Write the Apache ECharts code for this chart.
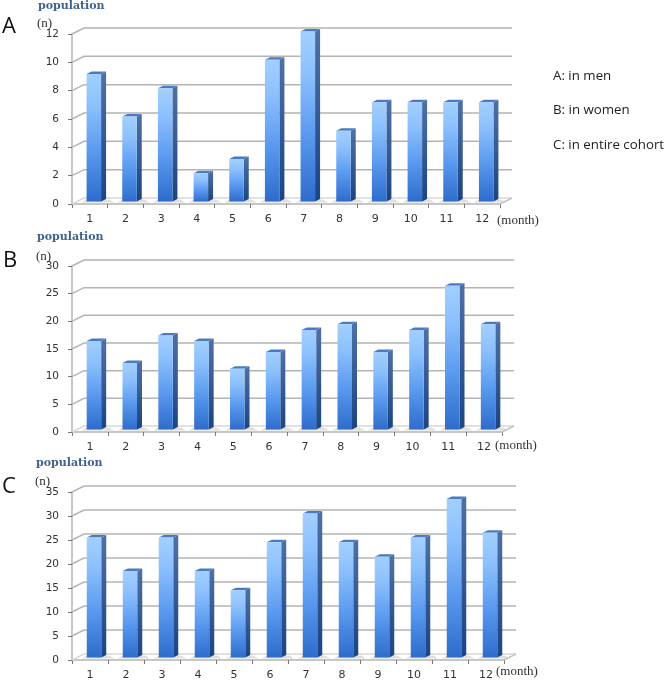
<!DOCTYPE html>
<html><head><meta charset="utf-8">
<style>html,body{margin:0;padding:0;background:#fff}#c{width:666px;height:683px}</style>
<script src="https://cdn.jsdelivr.net/npm/echarts@6/dist/echarts.min.js"></script>
</head><body><div id="c"></div>
<script>
const months = ['1','2','3','4','5','6','7','8','9','10','11','12'];
const menValues = [9,6,8,2,3,10,12,5,7,7,7,7];
const womenValues = [16,12,17,16,11,14,18,19,14,18,26,19];
const cohortValues = [25,18,25,18,14,24,30,24,21,25,33,26];
const menTicks = [0,2,4,6,8,10,12];
const womenTicks = [0,5,10,15,20,25,30];
const cohortTicks = [0,5,10,15,20,25,30,35];
const legendLines = ['A: in men','B: in women','C: in entire cohort'];

const panels = [
  {letter:'A', vals:menValues, ticks:menTicks, max:12, step:2, left:72, right:500, top:34, bottom:204, lx:2, ly:16, px:38, py:1, nx:37, ny:17, mx:497, my:214},
  {letter:'B', vals:womenValues, ticks:womenTicks, max:30, step:5, left:72, right:502, top:266, bottom:432, lx:3, ly:250, px:37, py:232, nx:36, ny:250, mx:495, my:439},
  {letter:'C', vals:cohortValues, ticks:cohortTicks, max:35, step:5, left:72, right:504, top:492, bottom:660, lx:2, ly:476, px:36, py:458, nx:35, ny:475, mx:496, my:665}
];
const DX=12, DY=-6, BW=14.5, SX=5, SY=-2.5, BO=4;
const grad=(x,y,x2,y2,st)=>new echarts.graphic.LinearGradient(x,y,x2,y2,st);

const grids=[],xAxes=[],yAxes=[],series=[],graphic=[];
panels.forEach((p,i)=>{
  grids.push({left:p.left,top:p.top,width:p.right-p.left,height:p.bottom-p.top});
  xAxes.push({gridIndex:i,type:'category',data:months,boundaryGap:true,
    axisLine:{show:true,lineStyle:{color:'#b4b4b4',width:1.5}},
    axisTick:{show:true,length:4,alignWithLabel:false,lineStyle:{color:'#777'}},
    axisLabel:{color:'#333',fontFamily:'DejaVu Sans',fontSize:11,margin:10},splitLine:{show:false}});
  yAxes.push({gridIndex:i,type:'value',min:0,max:p.max,interval:p.step,
    axisLine:{show:true,lineStyle:{color:'#b4b4b4',width:1.5}},
    axisTick:{show:true,length:4,lineStyle:{color:'#777'}},
    axisLabel:{color:'#333',fontFamily:'DejaVu Sans',fontSize:10.5,margin:13},splitLine:{show:false}});
  series.push({type:'custom',xAxisIndex:i,yAxisIndex:i,silent:true,z:1,
    data:p.ticks.map(t=>[0,t]),encode:{x:0,y:1},clip:false,
    renderItem(params,api){
      const y=api.coord([0,api.value(1)])[1], cs=params.coordSys;
      const L=cs.x,R=cs.x+cs.width;
      const zero=api.value(1)===0;
      const kids=[{type:'polyline',shape:{points:[[L,y],[L+DX,y+DY],[R+DX,y+DY]]},
        style:{fill:null,stroke:zero?'#d8d8d8':'#b4b4b4',lineWidth:1.5}}];
      if(zero) kids.push({type:'line',shape:{x1:R,y1:y,x2:R+DX,y2:y+DY},style:{stroke:'#c4c4c4',lineWidth:1.5}});
      return {type:'group',children:kids};
    }});
  series.push({type:'custom',xAxisIndex:i,yAxisIndex:i,silent:true,z:2,
    data:p.vals.map((v,k)=>[k,v]),encode:{x:0,y:1},clip:false,
    renderItem(params,api){
      const c=api.coord([api.value(0),api.value(1)]);
      const b=api.coord([api.value(0),0]);
      const x0=c[0]+BO-BW/2,x1=x0+BW,yt=c[1]+SY,yb=b[1]+SY;
      return {type:'group',children:[
        {type:'polygon',shape:{points:[[x0-5,yb+1],[x1+SX+8,yb+1],[x1+SX+3,yb-2],[x0,yb-2]]},style:{fill:'#c9c9c9',opacity:.6}},
        {type:'polygon',shape:{points:[[x1,yt],[x1+SX,yt+SY],[x1+SX,yb+SY],[x1,yb]]},
          style:{fill:grad(0,0,0,1,[{offset:0,color:'#4f70a6'},{offset:1,color:'#1b4483'}])}},
        {type:'polygon',shape:{points:[[x0,yt],[x0+SX,yt+SY],[x1+SX,yt+SY],[x1,yt]]},style:{fill:'#4a7ac2'}},
        {type:'rect',shape:{x:x0,y:yt,width:BW,height:yb-yt},
          style:{fill:grad(0,0,0,1,[{offset:0,color:'#a2cfff'},{offset:.25,color:'#8cc0fd'},{offset:.6,color:'#5b9aef'},{offset:1,color:'#2d6ccb'}])}}
      ]};
    }});
  graphic.push(
    {type:'text',left:p.lx,top:p.ly,style:{text:p.letter,font:'22px "Open Sans"',fill:'#111'}},
    {type:'text',left:p.px,top:p.py,style:{text:'population',font:'bold 11px "DejaVu Serif"',fill:'#3f6390'}},
    {type:'text',left:p.nx,top:p.ny,style:{text:'(n)',font:'13px "Liberation Serif"',fill:'#333'}},
    {type:'text',left:p.mx,top:p.my,style:{text:'(month)',font:'13px "Liberation Serif"',fill:'#333'}}
  );
});
[70,104,139].forEach((y,i)=>graphic.push({type:'text',left:553,top:y,style:{text:legendLines[i],font:'13.3px "Open Sans"',fill:'#222'}}));

const chart=echarts.init(document.getElementById('c'),null,{renderer:'canvas'});
chart.setOption({animation:false,grid:grids,xAxis:xAxes,yAxis:yAxes,series,graphic});
</script></body></html>
